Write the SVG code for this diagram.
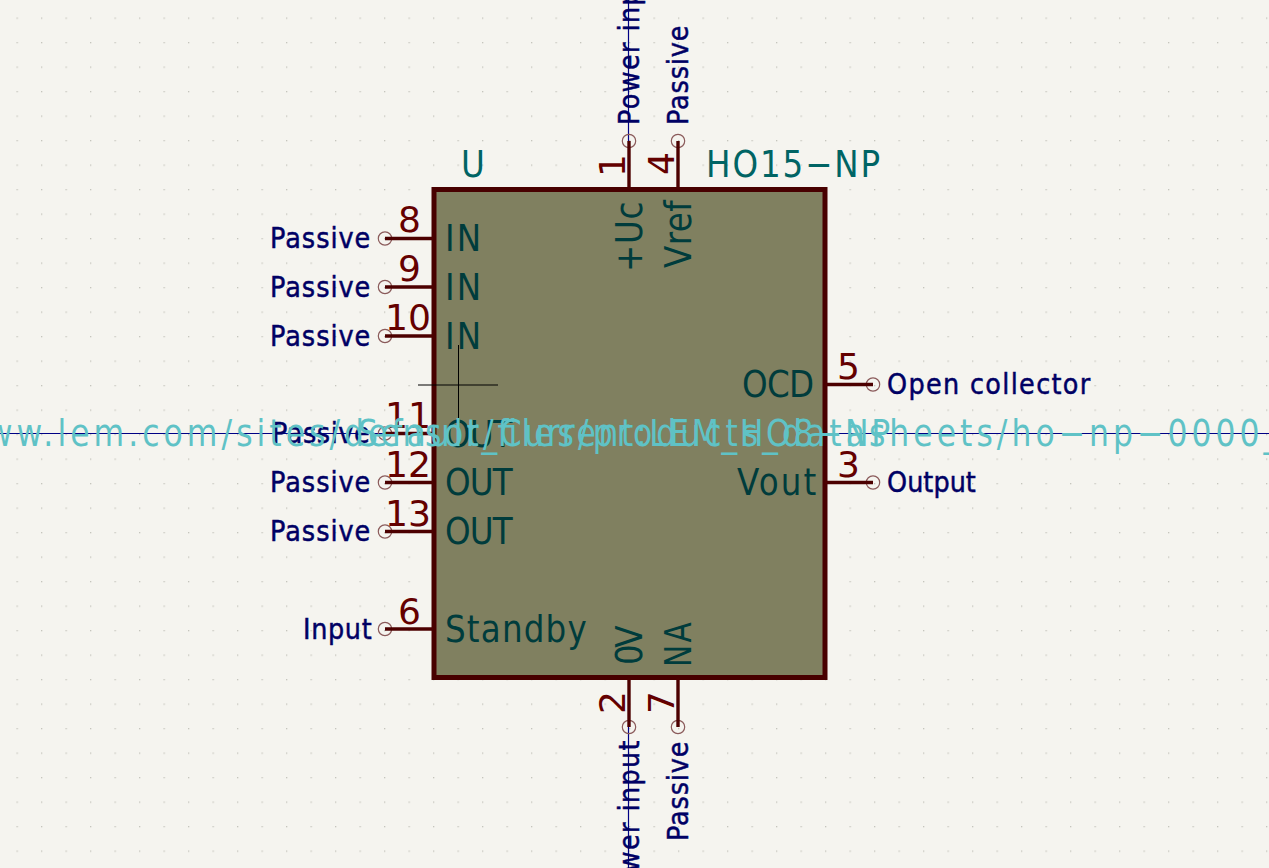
<svg xmlns="http://www.w3.org/2000/svg" width="1269" height="868" viewBox="0 0 1269 868">
<style>
text{font-family:"DejaVu Sans","Liberation Sans",sans-serif}
.pin{stroke:#4c0000;stroke-width:3.4;fill:none}
.end{stroke:#8a5a5a;stroke-width:1.2;fill:none}
.wire{stroke:#000084;stroke-width:1.2;fill:none}
.lbl{font-size:29px;fill:#000064;stroke:#000064;stroke-width:.5}
.num{font-size:36px;fill:#640000}
.name{font-size:37px;fill:#003c3c}
.fld{font-size:37px;fill:#006464}
.url{font-size:37px;fill:#5fc2c6}
</style>
<defs>
<pattern id="grid" x="16.5" y="17.5" width="24.5" height="24.5" patternUnits="userSpaceOnUse"><rect width="1.3" height="1.3" fill="#c4c4bc"/></pattern>
</defs>
<rect width="1269" height="868" fill="#f5f4ef"/>
<rect width="1269" height="868" fill="url(#grid)"/>
<g id="connectors">
<path class="wire" d="M0 433.5H385M825 433.5H1269M628.5 0V141M628.5 727V868"/>
</g>
<g id="body">
<rect x="434" y="189.5" width="391" height="488" fill="#808060" stroke="#480000" stroke-width="5"/>
<path d="M418 385H498M458.5 345V425" stroke="#000" stroke-width="1" fill="none"/>
<text class="fld" transform="translate(461 177) scale(.88 1)">U</text>
<text class="fld" transform="translate(706 177) scale(.88 1)" textLength="198">HO15−NP</text>
</g>
<g id="pin8"><circle class="end" cx="385" cy="238.5" r="6.7"/><path class="pin" d="M385 238.5H433"/><text class="num" x="398" y="232">8</text><text class="name" transform="translate(445 251) scale(.88 1)" textLength="41">IN</text><text class="lbl" transform="translate(270 248) scale(.88 1)" textLength="114">Passive</text></g>
<g id="pin9"><circle class="end" cx="385" cy="287" r="6.7"/><path class="pin" d="M385 287H433"/><text class="num" x="398" y="281">9</text><text class="name" transform="translate(445 300) scale(.88 1)" textLength="41">IN</text><text class="lbl" transform="translate(270 297) scale(.88 1)" textLength="114">Passive</text></g>
<g id="pin10"><circle class="end" cx="385" cy="336" r="6.7"/><path class="pin" d="M385 336H433"/><text class="num" x="385" y="330" textLength="46" lengthAdjust="spacingAndGlyphs">10</text><text class="name" transform="translate(445 349) scale(.88 1)" textLength="41">IN</text><text class="lbl" transform="translate(270 346) scale(.88 1)" textLength="114">Passive</text></g>
<g id="pin11"><circle class="end" cx="385" cy="433.5" r="6.7"/><path class="pin" d="M385 433.5H433"/><text class="num" x="385" y="428" textLength="46" lengthAdjust="spacingAndGlyphs">11</text><text class="name" transform="translate(445 447) scale(.88 1)" textLength="77">OUT</text><text class="lbl" transform="translate(272 443) scale(.88 1)" textLength="111">Passive</text></g>
<g id="pin12"><circle class="end" cx="385" cy="482.5" r="6.7"/><path class="pin" d="M385 482.5H433"/><text class="num" x="385" y="477" textLength="46" lengthAdjust="spacingAndGlyphs">12</text><text class="name" transform="translate(445 495) scale(.88 1)" textLength="77">OUT</text><text class="lbl" transform="translate(270 492) scale(.88 1)" textLength="114">Passive</text></g>
<g id="pin13"><circle class="end" cx="385" cy="531.5" r="6.7"/><path class="pin" d="M385 531.5H433"/><text class="num" x="385" y="526" textLength="46" lengthAdjust="spacingAndGlyphs">13</text><text class="name" transform="translate(445 544) scale(.88 1)" textLength="77">OUT</text><text class="lbl" transform="translate(270 541) scale(.88 1)" textLength="114">Passive</text></g>
<g id="pin6"><circle class="end" cx="385" cy="629" r="6.7"/><path class="pin" d="M385 629H433"/><text class="num" x="398" y="624">6</text><text class="name" transform="translate(445 642) scale(.88 1)" textLength="161">Standby</text><text class="lbl" transform="translate(303 639) scale(.88 1)" textLength="78">Input</text></g>
<g id="pin5"><circle class="end" cx="873" cy="384.5" r="6.7"/><path class="pin" d="M825 384.5H873"/><text class="num" x="837" y="379">5</text><text class="name" transform="translate(742 397) scale(.88 1)" textLength="82">OCD</text><text class="lbl" transform="translate(887 394) scale(.88 1)" textLength="231">Open collector</text></g>
<g id="pin3"><circle class="end" cx="873" cy="482.5" r="6.7"/><path class="pin" d="M825 482.5H873"/><text class="num" x="837" y="477">3</text><text class="name" transform="translate(737 495) scale(.88 1)" textLength="90">Vout</text><text class="lbl" transform="translate(887 492) scale(.88 1)" textLength="101">Output</text></g>
<g id="pin1"><circle class="end" cx="629" cy="141" r="6.7"/><path class="pin" d="M629 141V189"/><text class="num" transform="translate(625 177) rotate(-90)">1</text><text class="name" transform="translate(642 272) rotate(-90) scale(.88 1)" textLength="80">+Uc</text><text class="lbl" transform="translate(639 125) rotate(-90) scale(.88 1)" textLength="187">Power input</text></g>
<g id="pin4"><circle class="end" cx="678" cy="141" r="6.7"/><path class="pin" d="M678 141V189"/><text class="num" transform="translate(674 175) rotate(-90)">4</text><text class="name" transform="translate(691 268) rotate(-90) scale(.88 1)" textLength="77">Vref</text><text class="lbl" transform="translate(688 125) rotate(-90) scale(.88 1)" textLength="113">Passive</text></g>
<g id="pin2"><circle class="end" cx="629" cy="727" r="6.7"/><path class="pin" d="M629 678V727"/><text class="num" transform="translate(625 714) rotate(-90)">2</text><text class="name" transform="translate(642 665) rotate(-90) scale(.88 1)" textLength="45">0V</text><text class="lbl" transform="translate(639 905) rotate(-90) scale(.88 1)" textLength="187">Power input</text></g>
<g id="pin7"><circle class="end" cx="678" cy="727" r="6.7"/><path class="pin" d="M678 678V727"/><text class="num" transform="translate(674 714) rotate(-90)">7</text><text class="name" transform="translate(691 667) rotate(-90) scale(.8 1)" textLength="56">NA</text><text class="lbl" transform="translate(688 841) rotate(-90) scale(.88 1)" textLength="113">Passive</text></g>
<g id="fields">
<text class="url" transform="translate(358 446) scale(.85 1)" textLength="626">Sensor_Current:LEM_HO8−NP</text>
<text class="url" transform="translate(-188 446) scale(.85 1)" textLength="1955">https://www.lem.com/sites/default/files/products_datasheets/ho−np−0000_series.pdf</text>
</g>
</svg>
